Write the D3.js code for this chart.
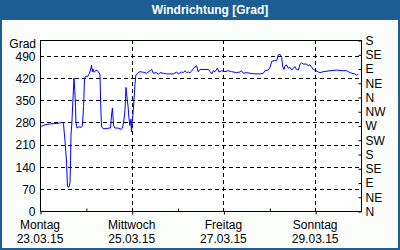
<!DOCTYPE html>
<html>
<head>
<meta charset="utf-8">
<script src="https://cdn.jsdelivr.net/npm/d3@7/dist/d3.min.js"></script>
<style>
  body { margin: 0; background: #fff; }
  text { font-family: "Liberation Sans", Arial, sans-serif; font-size: 12px; fill: #000; }
  .title { font-weight: bold; fill: #fff; }
</style>
</head>
<body>
<svg id="chart"></svg>
<script>
// hours since 23.03.15 00:00 and wind direction in degrees
const hours = [0, 2.6, 5.2, 7.8, 10.5, 11.5, 12.3, 13.1, 13.6, 13.9, 14.1, 14.4, 15.2, 15.7, 16.0, 16.2,
  16.7, 17.3, 17.8, 18.2, 18.6, 18.8, 19.4, 20.4, 21.5, 22.2, 22.8, 23.3, 24.1, 24.9, 25.4, 25.9,
  26.4, 27.0, 27.4, 27.7, 28.3, 29.0, 29.8, 30.6, 31.4, 31.8, 32.2, 33.0, 34.5, 36.1, 36.9, 37.4,
  37.9, 38.5, 39.2, 40.8, 42.4, 43.2, 44.0, 44.5, 45.0, 45.5, 46.1, 46.6, 47.1, 47.6, 47.9, 48.1,
  48.7, 49.2, 49.7, 50.2, 51.3, 52.3, 54.1, 55.8, 57.6, 58.5, 59.3, 61.1, 61.9, 62.8, 64.5, 66.3,
  69.8, 71.5, 72.4, 74.2, 75.0, 75.9, 76.8, 77.6, 78.5, 79.4, 80.2, 81.1, 82.0, 82.8, 83.7, 88.1,
  89.0, 89.9, 90.7, 91.6, 92.8, 93.7, 95.1, 96.8, 98.5, 100.3, 102.9, 104.7, 105.5, 106.4, 108.2, 109.9,
  112.5, 115.1, 116.9, 117.7, 119.5, 120.4, 121.3, 123.0, 123.9, 124.7, 125.6, 126.5, 127.0, 127.7, 128.2, 129.1,
  129.9, 130.8, 131.7, 132.6, 133.4, 134.3, 135.2, 136.1, 136.9, 137.8, 139.6, 140.4, 141.3, 142.2, 143.0, 143.9,
  145.6, 146.5, 148.3, 151.8, 155.3, 158.7, 160.5, 161.3, 163.1, 164.8, 165.7, 166.6];
const values = [266, 272, 275, 276, 278, 280, 275, 220, 180, 150, 120, 78, 75, 90, 160, 240,
  280, 360, 420, 380, 330, 280, 262, 266, 264, 268, 330, 420, 426, 424, 430, 435,
  445, 460, 440, 448, 438, 443, 444, 440, 430, 330, 266, 260, 260, 262, 262, 300,
  325, 270, 262, 262, 258, 262, 290, 320, 390, 360, 330, 290, 270, 290, 250, 270,
  310, 350, 400, 430, 436, 440, 438, 435, 443, 447, 435, 437, 431, 437, 435, 433,
  433, 439, 433, 439, 437, 443, 437, 439, 437, 442, 449, 456, 458, 439, 447, 447,
  440, 433, 443, 440, 451, 439, 443, 440, 443, 440, 437, 439, 443, 435, 437, 435,
  433, 433, 435, 443, 445, 454, 473, 475, 475, 493, 495, 485, 456, 447, 458, 461,
  451, 454, 445, 451, 456, 447, 445, 464, 468, 464, 464, 458, 462, 454, 447, 445,
  439, 437, 440, 443, 445, 443, 443, 440, 435, 433, 429, 431];

const yTicks = [0, 70, 140, 210, 280, 350, 420, 490];
const compass = ["N", "NE", "E", "SE", "S", "SW", "W", "NW", "N", "NE", "E", "SE", "S"];
const dayNames = ["Montag", "Mittwoch", "Freitag", "Sonntag"];
const dayDates = ["23.03.15", "25.03.15", "27.03.15", "29.03.15"];

const W = 400, H = 250;
const blue = "#1c5e93";
const m = { left: 40, right: 361, top: 40, bottom: 211 };

const start = new Date(2015, 2, 23);
const series = hours.map((h, i) => ({ t: new Date(+start + h * 3600e3), v: values[i] }));

const x = d3.scaleTime()
  .domain([start, d3.timeDay.offset(start, 7)])
  .range([m.left, m.right]);
const y = d3.scaleLinear().domain([0, 540]).range([m.bottom, m.top]);

const svg = d3.select("#chart").attr("width", W).attr("height", H);

// background + frame
svg.append("rect").attr("width", W).attr("height", H).attr("fill", "#fbfdfb");
svg.append("rect").attr("x", 1).attr("y", 1).attr("width", W - 2).attr("height", H - 2)
  .attr("fill", "none").attr("stroke", blue).attr("stroke-width", 2);
svg.append("rect").attr("width", W).attr("height", 20).attr("fill", blue);
svg.append("text").attr("class", "title")
  .attr("x", W / 2 + 10).attr("y", 14).attr("text-anchor", "middle")
  .text("Windrichtung [Grad]");

// plot area
svg.append("rect")
  .attr("x", m.left).attr("y", m.top)
  .attr("width", m.right - m.left).attr("height", m.bottom - m.top)
  .attr("fill", "#fff");

const days = d3.timeDay.range(start, d3.timeDay.offset(start, 8));
const majorDays = days.filter((d, i) => i % 2 === 0 && i < 7);
const minorDays = days.filter((d, i) => i % 2 === 1 && i < 7);

// grid
const grid = svg.append("g")
  .attr("stroke", "#000").attr("stroke-dasharray", "4,3").attr("shape-rendering", "crispEdges");
grid.selectAll(".hg").data(yTicks.slice(1)).enter().append("line")
  .attr("x1", m.left).attr("x2", m.right)
  .attr("y1", d => Math.round(y(d)) + 0.5).attr("y2", d => Math.round(y(d)) + 0.5);
grid.selectAll(".vg").data(majorDays.slice(1)).enter().append("line")
  .attr("y1", m.top).attr("y2", m.bottom)
  .attr("x1", d => Math.round(x(d)) + 0.5).attr("x2", d => Math.round(x(d)) + 0.5);

// line
svg.append("path")
  .datum(series)
  .attr("fill", "none")
  .attr("stroke", "#0000ff")
  .attr("stroke-width", 1)
  .attr("d", d3.line().x(d => x(d.t)).y(d => y(d.v)));

// axes frame
svg.append("rect")
  .attr("x", m.left + 0.5).attr("y", m.top + 0.5)
  .attr("width", m.right - m.left).attr("height", m.bottom - m.top)
  .attr("fill", "none").attr("stroke", "#000").attr("shape-rendering", "crispEdges");

// left axis
const left = svg.append("g").attr("transform", `translate(${m.left + 0.5},0.5)`)
  .call(d3.axisLeft(y).tickValues(yTicks).tickSize(0).tickPadding(5));
left.select(".domain").remove();
left.selectAll("text").style("font-family", null).style("font-size", "12px");
svg.append("text").attr("x", 36).attr("y", 48).attr("text-anchor", "end").text("Grad");

// right axis
const right = svg.append("g").attr("transform", `translate(${m.right + 0.5},0.5)`)
  .call(d3.axisRight(y).tickValues(d3.range(0, 541, 45)).tickSize(-3).tickPadding(5)
    .tickFormat((d, i) => compass[i]));
right.select(".domain").remove();
right.selectAll("text").attr("x", 4).style("font-family", null).style("font-size", "12px");

// bottom axis
const bottom = svg.append("g").attr("transform", `translate(0.5,${m.bottom + 0.5})`)
  .call(d3.axisBottom(x).tickValues(majorDays).tickSize(3).tickFormat(""));
bottom.select(".domain").remove();
svg.append("g").attr("transform", `translate(0.5,${m.bottom + 0.5})`)
  .call(d3.axisBottom(x).tickValues(minorDays).tickSize(-3).tickFormat(""))
  .select(".domain").remove();

const lbl = svg.append("g");
lbl.selectAll(".dn").data(majorDays).enter().append("text")
  .attr("x", d => x(d)).attr("y", 229).attr("text-anchor", "middle")
  .text((d, i) => dayNames[i]);
lbl.selectAll(".dd").data(majorDays).enter().append("text")
  .attr("x", d => x(d)).attr("y", 243).attr("text-anchor", "middle")
  .text((d, i) => dayDates[i]);
</script>
</body>
</html>
